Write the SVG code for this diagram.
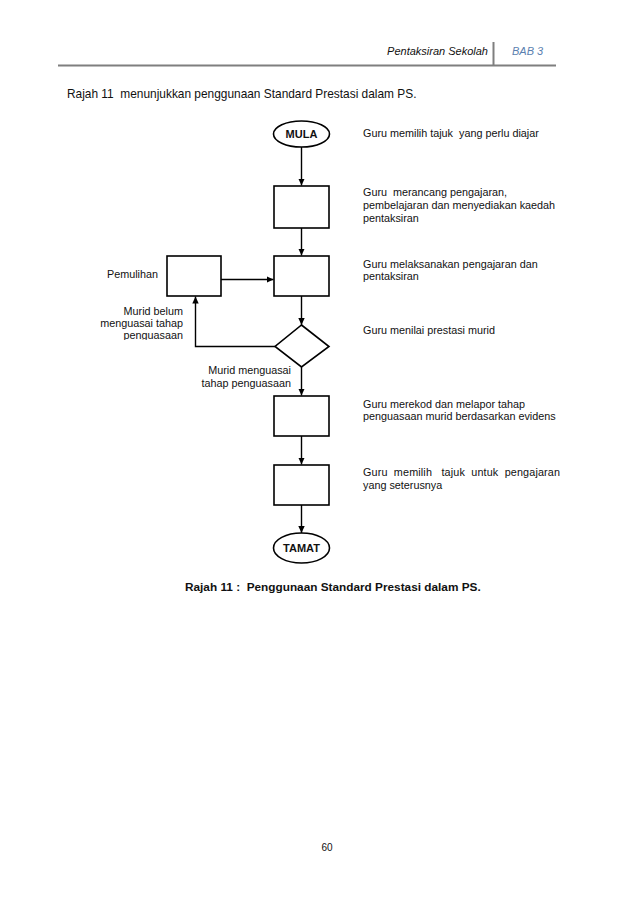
<svg xmlns="http://www.w3.org/2000/svg" width="638" height="903" viewBox="0 0 638 903" xml:space="preserve">
<style>
text{font-family:"Liberation Sans",Arial,sans-serif;fill:#111;white-space:pre;}
.t{font-size:10.8px;}
.r{text-anchor:end;}
.shape{fill:#fff;stroke:#000;stroke-width:1.6;}
.conn{fill:none;stroke:#000;stroke-width:1.4;}
.lbl{font-size:11px;font-weight:bold;text-anchor:middle;}
</style>
<defs>
<marker id="ah" markerWidth="8" markerHeight="8" refX="7" refY="4" orient="auto" markerUnits="userSpaceOnUse">
<path d="M0,0.8 L7,4 L0,7.2 Z" fill="#000"/>
</marker>
<clipPath id="clipL"><rect x="60" y="300" width="140" height="40"/></clipPath>
</defs>
<rect width="638" height="903" fill="#fff"/>
<g id="header">
<text x="488" y="55" class="t r" style="font-size:11px;font-style:italic">Pentaksiran Sekolah</text>
<text x="512" y="55" class="t" style="font-size:11px;fill:#5b7fb0;font-style:italic">BAB 3</text>
<line x1="58" y1="65.5" x2="556" y2="65.5" stroke="#7f7f7f" stroke-width="2"/>
<line x1="493.5" y1="42" x2="493.5" y2="66" stroke="#7f7f7f" stroke-width="2"/>
</g>
<text x="67" y="98" style="font-size:11.9px">Rajah 11  menunjukkan penggunaan Standard Prestasi dalam PS.</text>
<g id="connectors">
<line class="conn" x1="301.5" y1="147" x2="301.5" y2="185.5" marker-end="url(#ah)"/>
<line class="conn" x1="301.5" y1="228" x2="301.5" y2="255.5" marker-end="url(#ah)"/>
<line class="conn" x1="221" y1="279.5" x2="273.5" y2="279.5" marker-end="url(#ah)"/>
<line class="conn" x1="301.5" y1="296" x2="301.5" y2="325" marker-end="url(#ah)"/>
<polyline class="conn" points="275,346.5 195.5,346.5 195.5,296.5" marker-end="url(#ah)"/>
<line class="conn" x1="301.5" y1="367" x2="301.5" y2="395.5" marker-end="url(#ah)"/>
<line class="conn" x1="301.5" y1="436" x2="301.5" y2="464.5" marker-end="url(#ah)"/>
<line class="conn" x1="301.5" y1="505" x2="301.5" y2="533" marker-end="url(#ah)"/>
</g>
<g id="mula">
<ellipse class="shape" cx="301.5" cy="134" rx="28" ry="13"/>
<text x="301.5" y="138" class="lbl">MULA</text>
</g>
<g id="box1"><rect class="shape" x="274" y="186" width="55" height="42"/></g>
<g id="box2"><rect class="shape" x="274" y="256" width="55" height="40"/></g>
<g id="pemulihan"><rect class="shape" x="167" y="256" width="54" height="40"/></g>
<g id="decision"><polygon class="shape" points="301.5,325 329,346.5 301.5,367 275,346.5"/></g>
<g id="box3"><rect class="shape" x="274" y="396" width="55" height="40"/></g>
<g id="box4"><rect class="shape" x="274" y="465" width="55" height="40"/></g>
<g id="tamat">
<ellipse class="shape" cx="301.5" cy="548" rx="28" ry="15"/>
<text x="301.5" y="552" class="lbl">TAMAT</text>
</g>
<g id="notes">
<text x="363" y="137" class="t">Guru memilih tajuk  yang perlu diajar</text>
<text x="363" y="196" class="t">Guru  merancang pengajaran,</text>
<text x="363" y="209" class="t">pembelajaran dan menyediakan kaedah</text>
<text x="363" y="221.5" class="t">pentaksiran</text>
<text x="363" y="267.5" class="t">Guru melaksanakan pengajaran dan</text>
<text x="363" y="280" class="t">pentaksiran</text>
<text x="363" y="334" class="t">Guru menilai prestasi murid</text>
<text x="363" y="408" class="t">Guru merekod dan melapor tahap</text>
<text x="363" y="420" class="t">penguasaan murid berdasarkan evidens</text>
<text x="363" y="476" class="t" textLength="197" lengthAdjust="spacing">Guru  memilih   tajuk  untuk  pengajaran</text>
<text x="363" y="489" class="t">yang seterusnya</text>
<text x="107" y="278" class="t">Pemulihan</text>
<g clip-path="url(#clipL)">
<text x="183" y="314.5" class="t r">Murid belum</text>
<text x="183" y="326.5" class="t r">menguasai tahap</text>
<text x="183" y="338.5" class="t r">penguasaan</text>
</g>
<text x="291" y="374" class="t r">Murid menguasai</text>
<text x="291" y="386.5" class="t r">tahap penguasaan</text>
</g>
<text x="185" y="591" style="font-size:11.8px;font-weight:bold">Rajah 11 :  Penggunaan Standard Prestasi dalam PS.</text>
<text x="327" y="851" style="font-size:10px;text-anchor:middle">60</text>
</svg>
